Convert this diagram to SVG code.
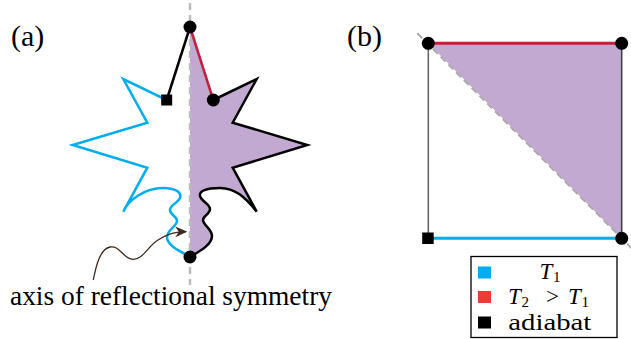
<svg xmlns="http://www.w3.org/2000/svg" width="631" height="339" viewBox="0 0 631 339">
<style>
text{font-family:"Liberation Serif","DejaVu Serif","Noto Serif","Times New Roman",serif;fill:#000}
.cyan{stroke:#00aeef;fill:none;stroke-width:2.5;stroke-linejoin:miter}
.blk{stroke:#000;fill:none;stroke-width:2.5}
.red{stroke:#c41e3a;fill:none;stroke-width:2.5}
.axis{stroke:#bbbbbb;stroke-width:2.5;stroke-dasharray:7,5;fill:none}
.fillp{fill:#c1a9d2;stroke:none}
.dot{fill:#000}
</style>
<defs>
<marker id="arr" viewBox="0 0 10 10" refX="9" refY="5" markerWidth="12" markerHeight="12" markerUnits="userSpaceOnUse" orient="auto">
<path d="M0,0.5 L10,5 L0,9.5 L3,5 Z" fill="#3b2a20"/>
</marker>
</defs>

<g id="panel-a">
  <text x="11" y="46" font-size="30">(a)</text>
  <path id="purple-half" class="fillp" d="M190,27 L213.3,100 L256.7,79 L232.7,122.7 L307.3,145 L232.7,167.7 L256.7,211.7 C245,197 235,188 220,188 C206,188 199,191 200,196 C201,201 210,204 210,209 C210,214 203,216 203,220 C203,225 212,229 212,236 C212,244 202,250 190,257 Z"/>
  <line class="axis" x1="190" y1="3" x2="190" y2="285"/>
  <g id="edges-a">
    <path class="cyan" d="M166.7,100 L123.3,79 L147.3,122.7 L72.7,145 L147.3,167.7 L123.3,211.7 C128,200 145,188 163,188 C175,188 182,192 180,198 C178,203 170,205 170,210 C170,215 177,216 177,221 C177,226 167,230 167,237 C167,245 178,250 188,256"/>
    <path class="blk" d="M213.3,100 L256.7,79 L232.7,122.7 L307.3,145 L232.7,167.7 L256.7,211.7 C245,197 235,188 220,188 C206,188 199,191 200,196 C201,201 210,204 210,209 C210,214 203,216 203,220 C203,225 212,229 212,236 C212,244 202,250 190,257"/>
    <line class="red" x1="190" y1="27" x2="213.3" y2="100"/>
    <line class="blk" x1="190" y1="27" x2="166.7" y2="100"/>
  </g>
  <g id="node-a-top"><circle class="dot" cx="190" cy="27" r="6.5"/></g>
  <g id="node-a-right"><circle class="dot" cx="213.3" cy="100" r="6.5"/></g>
  <g id="node-a-bottom"><circle class="dot" cx="190" cy="257" r="6.5"/></g>
  <g id="node-a-square"><rect class="dot" x="161.2" y="94.5" width="11" height="11"/></g>
  <g id="annotation">
    <path d="M93.3,280 C96,266 100,249 110,247 C120,245 123,259 133,259.3 C143,259.5 148,246 158,240 C166,235 172,232 186,231.7" fill="none" stroke="#3b2a20" stroke-width="1.3" marker-end="url(#arr)"/>
    <text x="10" y="305" font-size="27" textLength="322" lengthAdjust="spacingAndGlyphs">axis of reflectional symmetry</text>
  </g>
</g>

<g id="panel-b">
  <text x="347" y="46" font-size="30">(b)</text>
  <polygon class="fillp" points="428.3,43.3 621.7,43.3 621.7,238.3"/>
  <line x1="417.3" y1="33.3" x2="631.7" y2="248.3" stroke="#aaaaaa" stroke-width="2" stroke-dasharray="7,4"/>
  <g id="edges-b">
    <line x1="428.3" y1="43.3" x2="428.3" y2="238.3" stroke="#666" stroke-width="1.6"/>
    <line x1="621.7" y1="43.3" x2="621.7" y2="238.3" stroke="#444" stroke-width="1.6"/>
    <line x1="428.3" y1="43.3" x2="621.7" y2="43.3" stroke="#c41e3a" stroke-width="3"/>
    <line x1="428.3" y1="238.3" x2="621.7" y2="238.3" stroke="#00aeef" stroke-width="3"/>
  </g>
  <g id="node-b-tl"><circle class="dot" cx="428.3" cy="43.3" r="6.5"/></g>
  <g id="node-b-tr"><circle class="dot" cx="621.7" cy="43.3" r="6.5"/></g>
  <g id="node-b-br"><circle class="dot" cx="621.7" cy="238.3" r="6.5"/></g>
  <g id="node-b-bl"><rect class="dot" x="422.2" y="232.5" width="11.5" height="11.5"/></g>
</g>

<g id="legend">
  <rect x="471" y="256.5" width="146" height="81" fill="#fff" stroke="#000" stroke-width="1.3"/>
  <rect x="478" y="266.5" width="13" height="12" fill="#00aeef"/>
  <rect x="478" y="291" width="13" height="12" fill="#ef3b33"/>
  <rect x="478" y="316.5" width="13" height="12" fill="#000"/>
  <text x="539.5" y="279" font-size="23" font-style="italic">T</text>
  <text x="553" y="282" font-size="15">1</text>
  <text x="508" y="303.5" font-size="23" font-style="italic">T</text>
  <text x="521.5" y="306.5" font-size="15">2</text>
  <text x="546" y="303.5" font-size="23">&gt;</text>
  <text x="568" y="303.5" font-size="23" font-style="italic">T</text>
  <text x="581.5" y="306.5" font-size="15">1</text>
  <text x="508.3" y="330" font-size="24" textLength="83" lengthAdjust="spacingAndGlyphs">adiabat</text>
</g>
</svg>
